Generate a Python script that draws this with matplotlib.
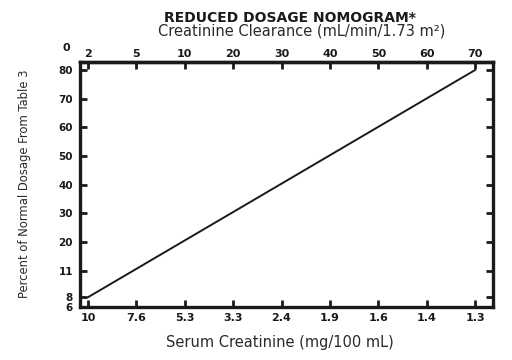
import numpy as np
import matplotlib
matplotlib.use("Agg")
import matplotlib.pyplot as plt

# tick values
clearance = [2, 5, 10, 20, 30, 40, 50, 60, 70]          # top axis, mL/min/1.73 m2
creatinine = ["10", "7.6", "5.3", "3.3", "2.4", "1.9", "1.6", "1.4", "1.3"]  # bottom axis
percent = [80, 70, 60, 50, 40, 30, 20, 11, 8, 6]         # left axis
percent_pos = [80, 70, 60, 50, 40, 30, 20, 10, 0.8, -2.6]

# the nomogram line
line_clearance = [2, 70]
line_percent = [8, 80]

x_pos = np.arange(len(clearance))

def to_x(v):
    return np.interp(v, clearance, x_pos)

def to_y(v):
    return np.interp(v, percent[::-1], percent_pos[::-1])

plt.rcParams['font.family'] = ['DejaVu Sans']
ink = "#1a1a1a"

fig = plt.figure(figsize=(5.12, 3.6), dpi=100)
ax = fig.add_axes([80/512, 1-307/360, 413/512, 245/360])

ax.plot(to_x(line_clearance), to_y(line_percent), color=ink, lw=1.4)

ax.set_xlim(-0.165, 8.37)
ax.set_ylim(-2.6, 82.8)

ax.set_xticks(x_pos)
ax.set_xticklabels(creatinine)
ax.set_yticks(percent_pos)
ax.set_yticklabels([str(p) for p in percent])
ax.tick_params(direction="in", length=5, width=2, color=ink,
               right=True, labelsize=7.5, labelcolor=ink)
ax.tick_params(axis="y", pad=5)
ax.tick_params(axis="x", pad=4, labelsize=8)
for lab in ax.get_xticklabels() + ax.get_yticklabels():
    lab.set_fontweight("bold")
for s in ax.spines.values():
    s.set_linewidth(2.4)
    s.set_color(ink)

top = ax.secondary_xaxis("top", functions=(lambda x: x, lambda x: x))
top.set_xticks(x_pos)
top.set_xticklabels([str(c) for c in clearance])
top.tick_params(direction="in", length=5, width=2, color=ink,
                labelsize=8, labelcolor=ink, pad=2)
for lab in top.get_xticklabels():
    lab.set_fontweight("bold")
top.spines["top"].set_linewidth(2.4)
fig.text(66/512, 1-48/360, "0", ha="center", va="center", fontsize=8,
         fontweight="bold", color=ink)

fig.text(290/512, 1-17.5/360, "REDUCED DOSAGE NOMOGRAM*", ha="center", va="center",
         fontsize=10, fontweight="bold", color=ink)
fig.text(302/512, 1-31/360, "Creatinine Clearance (mL/min/1.73 m²)", ha="center",
         va="center", fontsize=10.5, color="#2a2a2a")

fig.text(280/512, 1-343/360, "Serum Creatinine (mg/100 mL)", ha="center",
         va="center", fontsize=10.5, color="#2a2a2a")
fig.text(25/512, 1-184/360, "Percent of Normal Dosage From Table 3",
         rotation=90, ha="center", va="center", fontsize=9.3, color="#2a2a2a",
         fontstretch="condensed")

fig.savefig("out.png", dpi=100)
